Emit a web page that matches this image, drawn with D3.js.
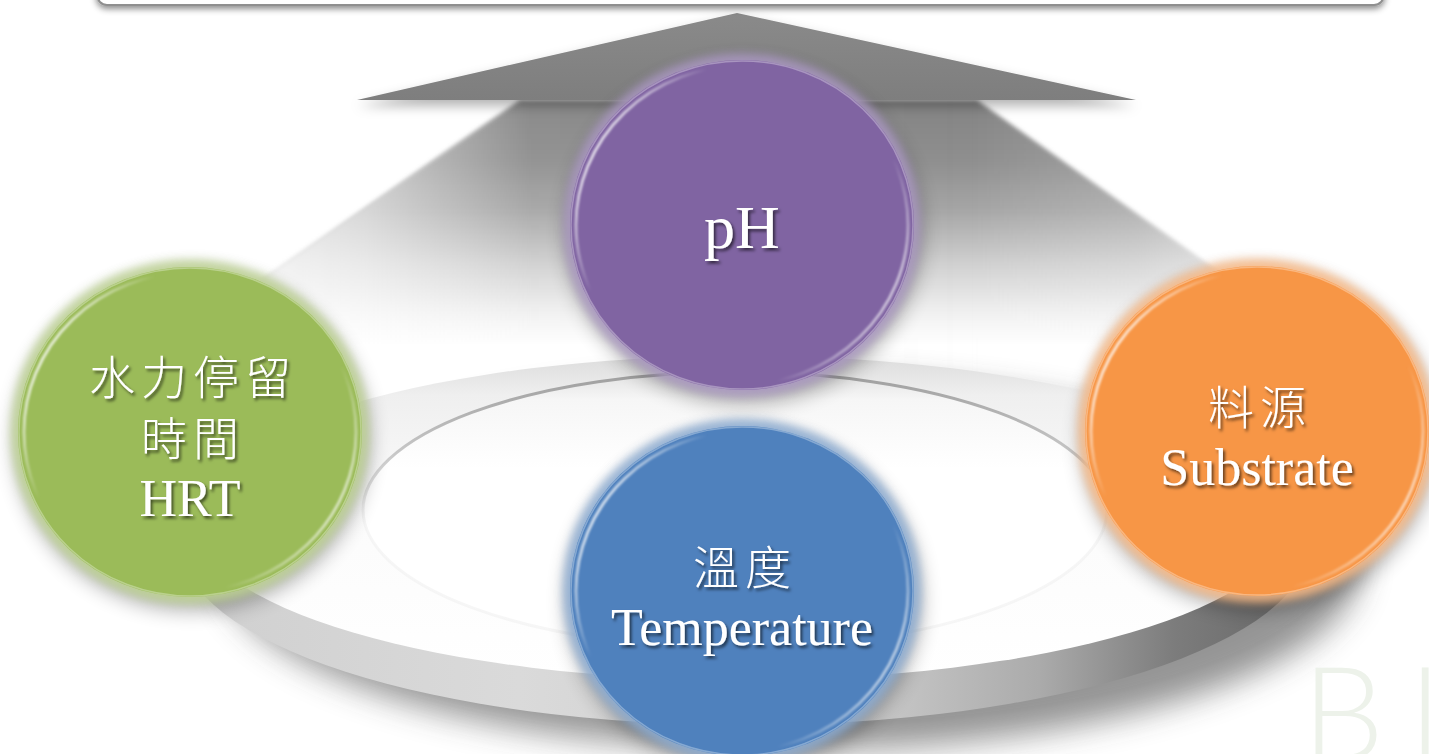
<!DOCTYPE html>
<html><head><meta charset="utf-8">
<script src="https://cdn.jsdelivr.net/npm/d3@7"></script>
<style>html,body{margin:0;padding:0;background:#fff;overflow:hidden}</style>
</head><body>
<svg id="chart" width="1429" height="754"></svg>
<script>
// Factors arranged around the ring: back, left, right, front
const factorKeys = ["pH", "HRT", "Substrate", "Temperature"];
const zhLabels = [[], ["水力停留", "時間"], ["料源"], ["溫度"]];
const enLabels = ["pH", "HRT", "Substrate", "Temperature"];
const palette = ["#8064a2", "#9bbb59", "#f79646", "#4f81bd"];
const watermarkText = "BI";

const W = 1429, H = 754;
const svg = d3.select("#chart");
const defs = svg.append("defs");

// ring slots for the four nodes
const slotScale = d3.scaleOrdinal()
  .domain(factorKeys)
  .range([{x: 742, y: 225}, {x: 190, y: 432}, {x: 1257, y: 431}, {x: 742, y: 591}]);
const colorScale = d3.scaleOrdinal().domain(factorKeys).range(palette);
const RX = 172, RY = 165;

// ---------- defs ----------
function blurFilter(id, sd) {
  defs.append("filter").attr("id", id)
    .attr("x", "-50%").attr("y", "-50%").attr("width", "200%").attr("height", "200%")
    .append("feGaussianBlur").attr("stdDeviation", sd);
}
blurFilter("b1", 1);
blurFilter("b2", 2);
blurFilter("b4", 4);
blurFilter("b10", 10);
blurFilter("b16", 16);

function dropShadow(id, dx, dy, sd, op) {
  defs.append("filter").attr("id", id)
    .attr("x", "-30%").attr("y", "-40%").attr("width", "160%").attr("height", "180%")
    .append("feDropShadow").attr("dx", dx).attr("dy", dy).attr("stdDeviation", sd)
    .attr("flood-color", "#000").attr("flood-opacity", op);
}
dropShadow("txtShadow", 2, 2.5, 1.4, 0.6);
dropShadow("boxShadow", 0, 3, 3, 0.45);
dropShadow("headShadow", 0, 6, 6, 0.3);

function linGrad(id, x1, y1, x2, y2, stops, units) {
  const g = defs.append("linearGradient").attr("id", id)
    .attr("x1", x1).attr("y1", y1).attr("x2", x2).attr("y2", y2);
  if (units) g.attr("gradientUnits", units);
  stops.forEach(s => g.append("stop").attr("offset", s[0])
    .attr("stop-color", s[1]).attr("stop-opacity", s[2] == null ? 1 : s[2]));
}
linGrad("shaftGrad", 0, 100, 0, 345, [
  [0, "#838383"], [0.25, "#8f8f8f"], [0.45, "#a6a6a6"], [0.68, "#d2d2d2"], [0.88, "#f2f2f2"], [1, "#ffffff"]
], "userSpaceOnUse");
linGrad("shaftLight", 200, 0, 1300, 0, [
  [0, "#fff", 0.85], [0.15, "#fff", 0.55], [0.3, "#fff", 0.05], [0.7, "#fff", 0], [0.85, "#fff", 0.15], [1, "#fff", 0.6]
], "userSpaceOnUse");
linGrad("headGrad", 0, 0, 0, 1, [[0, "#8a8a8a"], [1, "#7e7e7e"]]);
linGrad("sideGrad", 0, 0, 1, 0, [
  [0, "#cfcfcf"], [0.3, "#dadada"], [0.6, "#cbcbcb"], [0.76, "#ababab"], [0.88, "#7c7c7c"], [1, "#666"]
]);
linGrad("faceGrad", 0, 0, 0, 1, [
  [0, "#dcdcdc"], [0.12, "#efefef"], [0.45, "#fbfbfb"], [1, "#ffffff"]
]);
linGrad("holeGrad", 0, 0, 0, 1, [
  [0, "#e2e2e2"], [0.1, "#f6f6f6"], [0.35, "#ffffff"], [1, "#ffffff"]
]);
linGrad("holeStroke", 0, 0, 0, 1, [
  [0, "#9e9e9e"], [0.3, "#c8c8c8"], [0.55, "#f0f0f0", 0.6], [1, "#eeeeee", 0.5]
]);
linGrad("rimGrad", 0, 0.25, 1, 0.75, [
  [0, "#fff", 0.95], [0.08, "#fff", 0.6], [0.22, "#fff", 0],
  [0.78, "#fff", 0], [0.92, "#fff", 0.45], [1, "#fff", 0.85]
]);

// ---------- background ----------
svg.append("rect").attr("width", W).attr("height", H).attr("fill", "#fff");

// ---------- upward arrow shaft (widening toward the ring) ----------
const shaft = d3.path();
shaft.moveTo(520, 100);
shaft.lineTo(977, 100);
shaft.lineTo(1300, 330);
shaft.lineTo(1300, 420);
shaft.lineTo(190, 420);
shaft.lineTo(190, 330);
shaft.closePath();
svg.append("path").attr("d", shaft.toString())
  .attr("fill", "url(#shaftGrad)").attr("filter", "url(#b2)");
svg.append("path").attr("d", shaft.toString())
  .attr("fill", "url(#shaftLight)").attr("filter", "url(#b2)");

// ---------- ring ----------
const ring = svg.append("g");
ring.append("ellipse").attr("cx", 790).attr("cy", 565).attr("rx", 570).attr("ry", 185)
  .attr("fill", "#3c3c3c").attr("opacity", 0.55).attr("filter", "url(#b16)");
ring.append("ellipse").attr("cx", 745).attr("cy", 543).attr("rx", 565).attr("ry", 182)
  .attr("fill", "url(#sideGrad)");
ring.append("ellipse").attr("cx", 742).attr("cy", 518).attr("rx", 550).attr("ry", 162)
  .attr("fill", "url(#faceGrad)");
ring.append("ellipse").attr("cx", 735).attr("cy", 510).attr("rx", 372).attr("ry", 138)
  .attr("fill", "url(#holeGrad)")
  .attr("stroke", "url(#holeStroke)").attr("stroke-width", 3);

// ---------- arrow head ----------
const head = d3.path();
head.moveTo(737, 13);
head.lineTo(1136, 100);
head.lineTo(357, 100);
head.closePath();
svg.append("path").attr("d", head.toString())
  .attr("fill", "url(#headGrad)").attr("filter", "url(#headShadow)");

// ---------- title box edge ----------
svg.append("rect").attr("x", 97).attr("y", -50).attr("width", 1287).attr("height", 55)
  .attr("rx", 10).attr("fill", "#fff").attr("stroke", "#8f8f8f").attr("stroke-width", 2)
  .attr("filter", "url(#boxShadow)");

// ---------- watermark ----------
svg.append("text").attr("x", 1302).attr("y", 760)
  .attr("font-family", "Lato").attr("font-weight", 300).attr("font-size", 130)
  .attr("letter-spacing", 24).attr("fill", "#edf2ea").text(watermarkText);

// ---------- factor nodes ----------
const nodes = factorKeys.map((k, i) => {
  const lines = zhLabels[i].map(t => ({text: t, cjk: true}))
    .concat([{text: enLabels[i], cjk: false}]);
  return {key: k, lines, color: colorScale(k), pos: slotScale(k)};
});

const nodeG = svg.selectAll("g.node").data(nodes).join("g").attr("class", "node");

nodeG.append("ellipse")
  .attr("cx", d => d.pos.x + 2).attr("cy", d => d.pos.y + 8)
  .attr("rx", RX + 6).attr("ry", RY + 6)
  .attr("fill", "#000").attr("opacity", 0.3).attr("filter", "url(#b10)");

nodeG.append("ellipse")
  .attr("cx", d => d.pos.x).attr("cy", d => d.pos.y)
  .attr("rx", RX + 7).attr("ry", RY + 7)
  .attr("fill", d => d3.interpolateRgb(d.color, "#fff")(0.35))
  .attr("opacity", 0.85).attr("filter", "url(#b4)");

nodeG.append("ellipse")
  .attr("cx", d => d.pos.x).attr("cy", d => d.pos.y)
  .attr("rx", RX).attr("ry", RY)
  .attr("fill", d => d.color);

nodeG.append("ellipse")
  .attr("cx", d => d.pos.x).attr("cy", d => d.pos.y)
  .attr("rx", RX - 1).attr("ry", RY - 1)
  .attr("fill", "none")
  .attr("stroke", d => d3.interpolateRgb(d.color, "#fff")(0.45))
  .attr("stroke-width", 1.5).attr("opacity", 0.7);

nodeG.append("ellipse")
  .attr("cx", d => d.pos.x).attr("cy", d => d.pos.y)
  .attr("rx", RX - 6).attr("ry", RY - 6)
  .attr("fill", "none").attr("stroke", "url(#rimGrad)")
  .attr("stroke-width", 3).attr("filter", "url(#b1)");

const LINE_STEP = 61;
nodeG.each(function (d) {
  const g = d3.select(this);
  const n = d.lines.length;
  d.lines.forEach((ln, i) => {
    const y = d.pos.y + 23 + (i - (n - 1) / 2) * LINE_STEP;
    const t = g.append("text")
      .attr("x", d.pos.x).attr("y", y)
      .attr("text-anchor", "middle")
      .attr("fill", "#fff")
      .attr("filter", "url(#txtShadow)")
      .text(ln.text);
    if (ln.cjk) {
      t.attr("font-family", "'Noto Sans CJK TC', 'Noto Sans CJK SC', sans-serif")
        .attr("font-weight", 300).attr("font-size", 46)
        .attr("letter-spacing", 6).attr("dx", 3);
    } else {
      t.attr("font-family", "'Liberation Serif', 'Times New Roman', serif")
        .attr("font-size", n === 1 ? 62 : 52);
    }
  });
});
</script>
</body></html>
